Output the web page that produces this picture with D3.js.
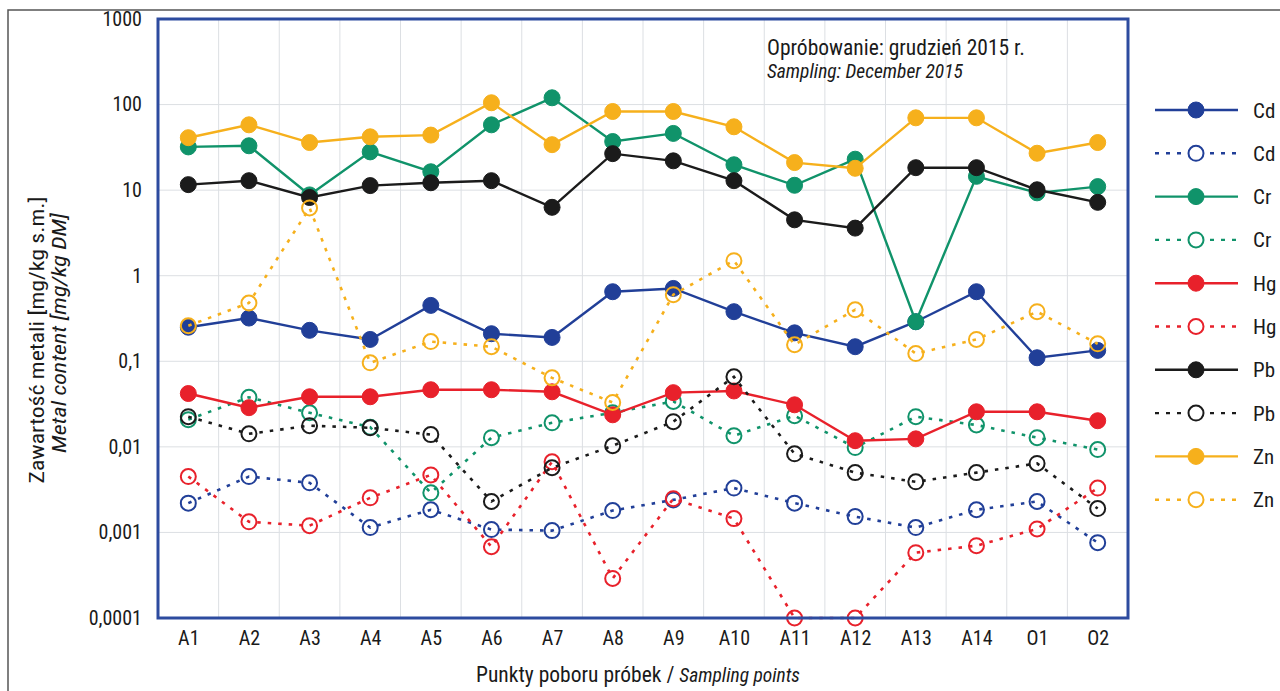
<!DOCTYPE html>
<html><head><meta charset="utf-8">
<script src="https://cdn.jsdelivr.net/npm/d3@7"></script>
<style>
html,body{margin:0;padding:0;background:#fff;}
svg{display:block;}
text{font-family:"Liberation Sans Narrow","Arial Narrow","Roboto Condensed","Liberation Sans",sans-serif;fill:#1a1a1a;}
</style></head>
<body>
<svg id="chart" width="1280" height="691"></svg>
<script>
const categories = ["A1","A2","A3","A4","A5","A6","A7","A8","A9","A10","A11","A12","A13","A14","O1","O2"];
const cdSolid  = [0.25,0.32,0.23,0.18,0.45,0.21,0.19,0.65,0.71,0.38,0.215,0.148,0.29,0.65,0.11,0.134];
const cdDotted = [0.0022,0.0045,0.0038,0.00114,0.00184,0.00108,0.00105,0.0018,0.0024,0.0033,0.0022,0.00153,0.00114,0.00184,0.0023,0.00076];
const crSolid  = [32,33,8.8,28,16.4,58,120,37,46,19.8,11.4,23,0.29,14.5,9.3,11];
const crDotted = [0.0208,0.038,0.025,0.017,0.0029,0.0128,0.0191,0.025,0.034,0.0135,0.0231,0.0098,0.0225,0.018,0.0128,0.0093];
const hgSolid  = [0.042,0.0287,0.0385,0.0385,0.0465,0.0465,0.044,0.0237,0.043,0.045,0.031,0.0118,0.0124,0.0257,0.0257,0.0202];
const hgDotted = [0.0045,0.00133,0.0012,0.00254,0.0047,0.00068,0.0067,0.00029,0.00248,0.00145,0.0001,0.0001,0.00058,0.0007,0.0011,0.0033];
const pbSolid  = [11.6,12.9,8.2,11.3,12.2,12.9,6.3,26.7,22,12.9,4.5,3.6,18.3,18.3,10.1,7.2];
const pbDotted = [0.0225,0.0142,0.0177,0.0167,0.0139,0.0023,0.0057,0.0103,0.0197,0.066,0.0083,0.005,0.0039,0.005,0.0064,0.0019];
const znSolid  = [41,58,36,42,44,105,34,83,83,55,21,18,70,70,27,36];
const znDotted = [0.26,0.48,6.2,0.096,0.17,0.148,0.064,0.033,0.6,1.5,0.156,0.4,0.123,0.18,0.38,0.16];
const yTickValues = [0.0001,0.001,0.01,0.1,1,10,100,1000];
const yTickLabels = ["0,0001","0,001","0,01","0,1","1","10","100","1000"];
const seriesNames = ["Cd","Cd","Cr","Cr","Hg","Hg","Pb","Pb","Zn","Zn"];

const colors = {Cd:"#213f98", Cr:"#10936a", Hg:"#e8212b", Pb:"#1b1b1b", Zn:"#f6b01c"};
const series = [
  {name:"Cd", values:cdSolid, dotted:false},
  {name:"Cd", values:cdDotted, dotted:true},
  {name:"Cr", values:crSolid, dotted:false},
  {name:"Cr", values:crDotted, dotted:true},
  {name:"Hg", values:hgSolid, dotted:false},
  {name:"Hg", values:hgDotted, dotted:true},
  {name:"Pb", values:pbSolid, dotted:false},
  {name:"Pb", values:pbDotted, dotted:true},
  {name:"Zn", values:znSolid, dotted:false},
  {name:"Zn", values:znDotted, dotted:true}
];

const svg = d3.select("#chart");
const L = 158, R = 1128, T = 19, B = 618;

const x = d3.scalePoint().domain(categories).range([L, R]).padding(0.5);
const y = d3.scaleLog().domain([0.0001, 1000]).range([B, T]);

// outer frame
svg.append("path").attr("d", "M8,691 V10 H1280").attr("fill","none").attr("stroke","#555").attr("stroke-width",1.5);

// gridlines
const step = x.step();
const grid = svg.append("g");
grid.selectAll("line.v").data(categories.slice(1)).join("line")
  .attr("x1", d => x(d) - step/2).attr("x2", d => x(d) - step/2)
  .attr("y1", T).attr("y2", B).attr("stroke","#dcdfe3").attr("stroke-width",1);
grid.selectAll("line.h").data(yTickValues.slice(1,-1)).join("line")
  .attr("x1", L).attr("x2", R).attr("y1", d => y(d)).attr("y2", d => y(d))
  .attr("stroke","#dcdfe3").attr("stroke-width",1);

// y axis
const yAxis = d3.axisLeft(y).tickValues(yTickValues)
  .tickFormat((d,i) => yTickLabels[i]).tickSize(0).tickPadding(16);
const gy = svg.append("g").attr("transform", `translate(${L},0)`).call(yAxis);
gy.select(".domain").remove();
gy.selectAll("text").attr("font-size", 20).attr("fill","#1a1a1a")
  .attr("font-family", null);

// x axis
const xAxis = d3.axisBottom(x).tickSize(0).tickPadding(13);
const gx = svg.append("g").attr("transform", `translate(0,${B})`).call(xAxis);
gx.select(".domain").remove();
gx.selectAll("text").attr("font-size", 20).attr("fill","#1a1a1a").attr("font-family", null);

// series
const line = d3.line().x((d,i) => x(categories[i])).y(d => y(d));
const plot = svg.append("g");
series.forEach(s => {
  const c = colors[s.name];
  const g = plot.append("g");
  g.append("path").datum(s.values).attr("d", line)
    .attr("fill","none").attr("stroke", c)
    .attr("stroke-width", s.dotted ? 2.6 : 2.4)
    .attr("stroke-dasharray", s.dotted ? "3.5,7" : null)
    .attr("stroke-linecap", s.dotted ? "butt" : "round");
  g.selectAll("circle").data(s.values).join("circle")
    .attr("cx", (d,i) => x(categories[i])).attr("cy", d => y(d))
    .attr("r", s.dotted ? 7.5 : 8)
    .attr("fill", s.dotted ? "none" : c)
    .attr("stroke", c).attr("stroke-width", s.dotted ? 2 : 1);
});

// plot border
svg.append("rect").attr("x", L).attr("y", T).attr("width", R-L).attr("height", B-T)
  .attr("fill","none").attr("stroke","#2d4b9f").attr("stroke-width",3);

// annotation
svg.append("text").attr("x", 767).attr("y", 55).attr("font-size", 21.5).text("Opróbowanie: grudzień 2015 r.");
svg.append("text").attr("x", 767).attr("y", 78).attr("font-size", 19.5).attr("font-style","italic").text("Sampling: December 2015");

// legend
const leg = svg.append("g");
series.forEach((s, i) => {
  const c = colors[s.name];
  const yy = 110 + i * 43.3;
  leg.append("line").attr("x1", 1155).attr("x2", 1238).attr("y1", yy).attr("y2", yy)
    .attr("stroke", c).attr("stroke-width", 2.4)
    .attr("stroke-dasharray", s.dotted ? "4,7" : null);
  leg.append("circle").attr("cx", 1196).attr("cy", yy).attr("r", s.dotted ? 7.5 : 8)
    .attr("fill", s.dotted ? "#fff" : c).attr("stroke", c).attr("stroke-width", s.dotted ? 2 : 1);
  leg.append("text").attr("x", 1253).attr("y", yy + 7.5).attr("font-size", 21).text(seriesNames[i]);
});

// axis titles
svg.append("text").attr("transform", "translate(43.5,340) rotate(-90) scale(1.13,1)")
  .attr("text-anchor","middle").attr("font-size", 21).text("Zawartość metali [mg/kg s.m.]");
svg.append("text").attr("transform", "translate(66,333) rotate(-90) scale(1.2,1)")
  .attr("text-anchor","middle").attr("font-size", 20).attr("font-style","italic").text("Metal content [mg/kg DM]");

const xt = svg.append("text").attr("x", 638).attr("y", 682).attr("text-anchor","middle").attr("font-size", 21.5);
xt.append("tspan").text("Punkty poboru próbek / ");
xt.append("tspan").attr("font-style","italic").attr("font-size", 19.5).text("Sampling points");
</script>
</body></html>
